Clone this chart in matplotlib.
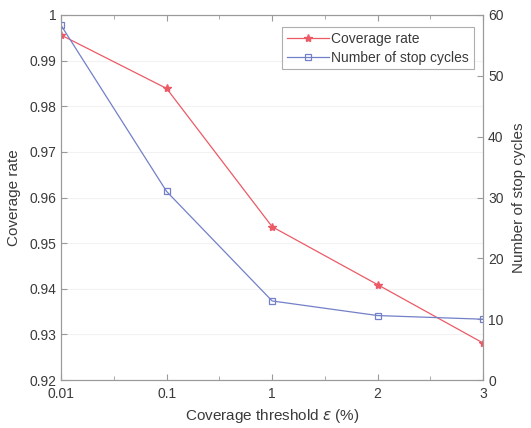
import matplotlib
matplotlib.use("Agg")
import matplotlib.pyplot as plt
from matplotlib.ticker import MultipleLocator

plt.rcParams['font.family'] = ['Liberation Sans', 'DejaVu Sans']

# datos
thresholds = ["0.01", "0.1", "1", "2", "3"]
coverage = [0.9956, 0.9839, 0.9536, 0.9409, 0.9281]
stop_cycles = [58.3, 31.0, 13.0, 10.6, 10.0]

red = "#ec5a66"
blue = "#7380c8"
grey = "#9a9a9a"
txt = "#3a3a3a"

x = list(range(len(thresholds)))

fig = plt.figure(figsize=(5.31, 4.28), dpi=100)
ax = fig.add_axes([0.115, 0.112, 0.795, 0.853])
ax2 = ax.twinx()

l1, = ax.plot(x, coverage, color=red, lw=0.9, marker="*", ms=6,
              label="Coverage rate")
l2, = ax2.plot(x, stop_cycles, color=blue, lw=0.9, marker="s", ms=5,
               mfc="none", mew=0.9, label="Number of stop cycles")

ax.set_xlim(0, len(thresholds) - 1)
ax.set_ylim(0.92, 1.0)
ax2.set_ylim(0, 60)
ax.set_xticks(x)
ax.set_xticklabels(thresholds)
ax.xaxis.set_minor_locator(MultipleLocator(0.5))
ax.set_yticks([0.92, 0.93, 0.94, 0.95, 0.96, 0.97, 0.98, 0.99, 1.0])
ax.set_yticklabels(["0.92", "0.93", "0.94", "0.95", "0.96", "0.97", "0.98", "0.99", "1"])
ax2.set_yticks(range(0, 61, 10))

ax.grid(axis="y", color="#f2f2f2", lw=0.8)
ax.set_axisbelow(True)

for a in (ax, ax2):
    for s in a.spines.values():
        s.set_color(grey)
        s.set_linewidth(0.8)
    a.tick_params(which="both", direction="in", colors=grey, labelcolor=txt,
                  labelsize=10)
ax.tick_params(which="both", top=True)
ax.tick_params(which="major", length=4)
ax.tick_params(which="minor", length=3)
ax2.tick_params(length=4)
ax.tick_params(axis="x", pad=5)

ax.set_xlabel("Coverage threshold $\\varepsilon$ (%)", color=txt, fontsize=11)
ax.set_ylabel("Coverage rate", color=txt, fontsize=11, labelpad=6)
ax2.set_ylabel("Number of stop cycles", color=txt, fontsize=11, labelpad=6)

leg = ax2.legend(handles=[l1, l2], loc="upper right", fontsize=10,
                 bbox_to_anchor=(0.985, 0.975), borderaxespad=0.2,
                 fancybox=False, handlelength=3.0, handletextpad=0.2,
                 labelspacing=0.35, borderpad=0.35)
leg.get_frame().set_edgecolor(grey)
leg.get_frame().set_linewidth(0.8)
for t in leg.get_texts():
    t.set_color(txt)

fig.savefig("out.png", dpi=100)
